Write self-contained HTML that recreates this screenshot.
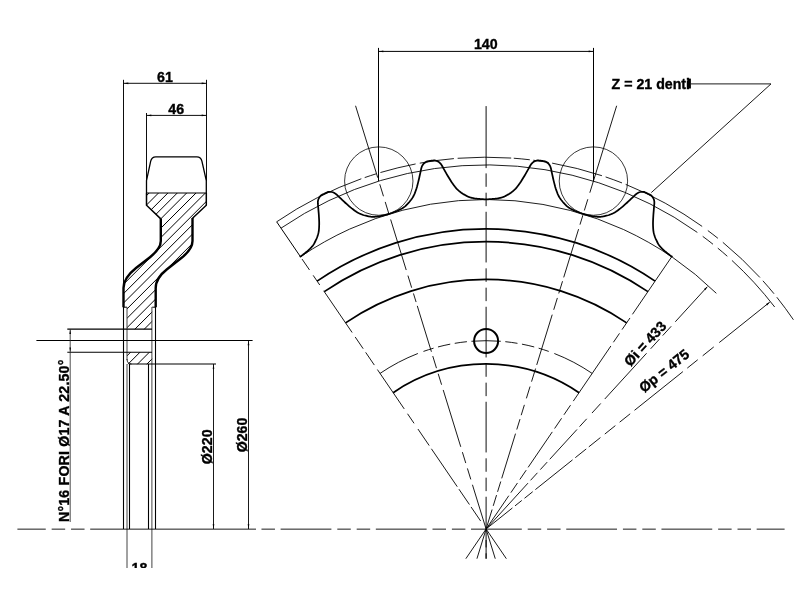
<!DOCTYPE html>
<html lang="it">
<head>
<meta charset="utf-8">
<title>Disegno tecnico corona dentata Z = 21</title>
<style>
html,body{margin:0;padding:0;background:#fff;}
body{width:807px;height:590px;overflow:hidden;}
svg{display:block;will-change:transform;}
svg text{font-family:"Liberation Sans",sans-serif;font-weight:bold;fill:#000;stroke:#000;stroke-width:0.35px;}
</style>
</head>
<body>
<svg width="807" height="590" viewBox="0 0 807 590">
<rect x="0" y="0" width="807" height="590" fill="#fff"/>
<clipPath id="page"><rect x="0" y="0" width="807" height="568"/></clipPath>
<g clip-path="url(#page)">
<line x1="123.5" y1="79.8" x2="123.5" y2="286" stroke="#000" stroke-width="0.95"/>
<line x1="206.5" y1="79.8" x2="206.5" y2="181" stroke="#000" stroke-width="0.95"/>
<line x1="146.5" y1="113" x2="146.5" y2="181" stroke="#000" stroke-width="0.95"/>
<line x1="123.5" y1="83.3" x2="206.5" y2="83.3" stroke="#000" stroke-width="0.95"/>
<polygon points="123.9,83.3 128.3,82.45 128.3,84.15" fill="#000"/>
<polygon points="206.1,83.3 201.7,84.15 201.7,82.45" fill="#000"/>
<text x="165" y="81.7" font-size="14.2" text-anchor="middle">61</text>
<line x1="146.5" y1="115.4" x2="206.5" y2="115.4" stroke="#000" stroke-width="0.95"/>
<polygon points="146.9,115.4 151.3,114.55 151.3,116.25" fill="#000"/>
<polygon points="206.1,115.4 201.7,116.25 201.7,114.55" fill="#000"/>
<text x="176.2" y="113.65" font-size="14.2" text-anchor="middle">46</text>
<path d="M146.5 193 L146.5 180.6 L150.7 161.2 Q151.7 157 155.8 156.9 L196.9 156.9 Q201 157 201.9 161.2 L206.3 180.6 L206.3 193" fill="none" stroke="#000" stroke-width="1.3"/>
<line x1="146.5" y1="193" x2="206.3" y2="193" stroke="#000" stroke-width="1.2"/>
<clipPath id="cb"><path d="M146.5 193 L206.3 193 L206.3 205.2 L192.5 218.3 L192.5 241 C192.5 248.5 186.5 254 181 258.3 L167 269.3 C160.8 274.3 155.7 279.5 155.7 288 L155.7 307.2 L152.2 307.2 L152.2 329.2 L127 329.2 L127 307.2 L123.5 307.2 L123.5 288 C123.5 279 129.75 273 136 268 L150 257.2 C155.5 252.8 160.8 248 160.8 241 L160.8 218.9 L146.5 205.2 Z"/><rect x="127" y="352.3" width="25.2" height="12"/></clipPath>
<path d="M107.7 150 L-122.3 380 M117.08 150 L-112.92 380 M126.46 150 L-103.54 380 M135.84 150 L-94.16 380 M145.22 150 L-84.78 380 M154.6 150 L-75.4 380 M163.98 150 L-66.02 380 M173.36 150 L-56.64 380 M182.74 150 L-47.26 380 M192.12 150 L-37.88 380 M201.5 150 L-28.5 380 M210.88 150 L-19.12 380 M220.26 150 L-9.74 380 M229.64 150 L-0.36 380 M239.02 150 L9.02 380 M248.4 150 L18.4 380 M257.78 150 L27.78 380 M267.16 150 L37.16 380 M276.54 150 L46.54 380 M285.92 150 L55.92 380 M295.3 150 L65.3 380 M304.68 150 L74.68 380 M314.06 150 L84.06 380 M323.44 150 L93.44 380 M332.82 150 L102.82 380 M342.2 150 L112.2 380 M351.58 150 L121.58 380 M360.96 150 L130.96 380 M370.34 150 L140.34 380 M379.72 150 L149.72 380 M389.1 150 L159.1 380 M398.48 150 L168.48 380 M407.86 150 L177.86 380" fill="none" stroke="#000" stroke-width="1" clip-path="url(#cb)"/>
<path d="M146.5 193 L146.5 205.2 L160.8 218.9 M206.3 193 L206.3 205.2 L192.5 218.3" fill="none" stroke="#000" stroke-width="1.5"/>
<path d="M160.8 218.5 L160.8 241 C160.8 248 155.5 252.8 150 257.2 L136 268 C129.75 273 123.5 279 123.5 288 L123.5 307.2" fill="none" stroke="#000" stroke-width="2.4"/>
<path d="M192.5 218 L192.5 241 C192.5 248.5 186.5 254 181 258.3 L167 269.3 C160.8 274.3 155.7 279.5 155.7 288 L155.7 307.2" fill="none" stroke="#000" stroke-width="2.4"/>
<line x1="123.6" y1="307.2" x2="127" y2="307.2" stroke="#000" stroke-width="1"/>
<line x1="152.2" y1="307.2" x2="155.6" y2="307.2" stroke="#000" stroke-width="1"/>
<line x1="123.5" y1="307" x2="123.5" y2="529" stroke="#000" stroke-width="1.1"/>
<line x1="155.5" y1="307" x2="155.5" y2="529" stroke="#000" stroke-width="1.1"/>
<line x1="127" y1="307" x2="127" y2="360" stroke="#444" stroke-width="1"/>
<line x1="151.9" y1="307" x2="151.9" y2="364" stroke="#444" stroke-width="1"/>
<path d="M127 359 Q127 364 131.5 364" fill="none" stroke="#222" stroke-width="1"/>
<line x1="129.5" y1="364" x2="129.5" y2="529" stroke="#000" stroke-width="1.1"/>
<line x1="148.5" y1="364" x2="148.5" y2="529" stroke="#000" stroke-width="1.1"/>
<line x1="127" y1="364" x2="127" y2="569" stroke="#444" stroke-width="1"/>
<line x1="151.9" y1="364" x2="151.9" y2="569" stroke="#444" stroke-width="1"/>
<line x1="67.3" y1="329.15" x2="152" y2="329.15" stroke="#000" stroke-width="1.1"/>
<line x1="36.4" y1="340.5" x2="252.6" y2="340.5" stroke="#000" stroke-width="1.05"/>
<line x1="67.3" y1="352.3" x2="152" y2="352.3" stroke="#000" stroke-width="1.1"/>
<line x1="129.5" y1="364" x2="216" y2="364" stroke="#000" stroke-width="1.1"/>
<line x1="70.2" y1="329.15" x2="70.2" y2="522" stroke="#222" stroke-width="0.8"/>
<polygon points="70.2,329.5 71,334 69.4,334" fill="#000"/>
<polygon points="70.2,352 69.4,347.5 71,347.5" fill="#000"/>
<text x="68.6" y="522" font-size="14.2" text-anchor="start" transform="rotate(-90 68.6 522)" letter-spacing="0.18">N°16 FORI Ø17 A 22.50°</text>
<line x1="213.5" y1="364" x2="213.5" y2="529" stroke="#000" stroke-width="0.9"/>
<polygon points="213.5,364.4 214.35,368.8 212.65,368.8" fill="#000"/>
<polygon points="213.5,528.6 212.65,524.2 214.35,524.2" fill="#000"/>
<text x="211.8" y="446.8" font-size="14.2" text-anchor="middle" transform="rotate(-90 211.8 446.8)">Ø220</text>
<line x1="248.5" y1="340.5" x2="248.5" y2="529" stroke="#000" stroke-width="0.9"/>
<polygon points="248.5,340.9 249.35,345.3 247.65,345.3" fill="#000"/>
<polygon points="248.5,528.6 247.65,524.2 249.35,524.2" fill="#000"/>
<text x="246.8" y="435" font-size="14.2" text-anchor="middle" transform="rotate(-90 246.8 435)">Ø260</text>
<text x="139.4" y="573" font-size="14.2" text-anchor="middle">18</text>
<line x1="378.5" y1="47.9" x2="378.5" y2="181.08" stroke="#000" stroke-width="1"/>
<line x1="593.5" y1="47.9" x2="593.5" y2="181.08" stroke="#000" stroke-width="1"/>
<line x1="378.5" y1="51.4" x2="593.5" y2="51.4" stroke="#000" stroke-width="1"/>
<polygon points="378.9,51.4 383.3,50.55 383.3,52.25" fill="#000"/>
<polygon points="593.1,51.4 588.7,52.25 588.7,50.55" fill="#000"/>
<text x="485.8" y="48.7" font-size="14.2" text-anchor="middle">140</text>
<text x="611.6" y="88.5" font-size="14.2" text-anchor="start">Z = 21 denti</text>
<rect x="687.3" y="78.6" width="3.6" height="9.9" fill="#000"/>
<path d="M691 83.9 L771 83.9 L651.3 192.6" fill="none" stroke="#000" stroke-width="0.9"/>
<circle cx="378.78" cy="181.08" r="34.2" fill="none" stroke="#000" stroke-width="0.78"/>
<circle cx="593.42" cy="181.08" r="34.2" fill="none" stroke="#000" stroke-width="0.78"/>
<path d="M276.66 221.8 A371.8 371.8 0 0 1 361.32 178.76 M364.69 177.58 A371.8 371.8 0 0 1 376.03 173.87 M380.44 172.53 A371.8 371.8 0 0 1 415.6 163.94 M419.75 163.17 A371.8 371.8 0 0 1 453.89 158.6 M457.64 158.29 A371.8 371.8 0 0 1 511.19 158.05 M513.78 158.23 A371.8 371.8 0 0 1 529.8 159.78 M533.34 160.21 A371.8 371.8 0 0 1 548.74 162.52 M552.13 163.11 A371.8 371.8 0 0 1 601.92 175.7 M605.61 176.93 A371.8 371.8 0 0 1 622 182.93 M625.68 184.39 A371.8 371.8 0 0 1 702.16 226.42 M707.83 230.55 A371.8 371.8 0 0 1 717.91 238.31 M722.84 242.32 A371.8 371.8 0 0 1 759.91 277.48 M762.92 280.8 A371.8 371.8 0 0 1 774.02 293.76 M776.83 297.24 A371.8 371.8 0 0 1 793.43 319.75" fill="none" stroke="#000" stroke-width="0.88"/>
<path d="M281 228.17 A364.1 364.1 0 0 1 697.33 232.43 M702.73 236.35 A364.1 364.1 0 0 1 713.01 244.25 M717.79 248.13 A364.1 364.1 0 0 1 727.31 256.26 M731.94 260.43 A364.1 364.1 0 0 1 774.69 307" fill="none" stroke="#000" stroke-width="0.88"/>
<path d="M300.49 256.75 A329.5 329.5 0 0 1 716.35 293.3" fill="none" stroke="#000" stroke-width="0.88"/>
<path d="M317.1 281.13 A300 300 0 0 1 655.1 281.13" fill="none" stroke="#000" stroke-width="1.75"/>
<path d="M324.26 291.62 A287.3 287.3 0 0 1 647.94 291.62" fill="none" stroke="#000" stroke-width="1.75"/>
<path d="M345.55 322.85 A249.5 249.5 0 0 1 626.65 322.85" fill="none" stroke="#000" stroke-width="1.75"/>
<path d="M393.15 392.67 A165 165 0 0 1 579.05 392.67" fill="none" stroke="#000" stroke-width="1.75"/>
<path d="M380.03 373.42 A188.3 188.3 0 0 1 417.88 353.49 M423.46 351.42 A188.3 188.3 0 0 1 433.57 348.18 M437.97 346.96 A188.3 188.3 0 0 1 450.24 344.15 M454.73 343.33 A188.3 188.3 0 0 1 466.91 341.68 M471.42 341.27 A188.3 188.3 0 0 1 500.78 341.27 M505.29 341.68 A188.3 188.3 0 0 1 517.47 343.33 M521.96 344.15 A188.3 188.3 0 0 1 534.23 346.96 M538.63 348.18 A188.3 188.3 0 0 1 548.74 351.42 M554.32 353.49 A188.3 188.3 0 0 1 592.17 373.42" fill="none" stroke="#000" stroke-width="0.9"/>
<circle cx="486.1" cy="341" r="12" fill="none" stroke="#000" stroke-width="2"/>
<path d="M300.37 256.59 L300.96 256.18 L301.54 255.77 L302.12 255.34 L302.69 254.92 L303.26 254.48 L303.83 254.04 L304.4 253.6 L304.96 253.16 L305.52 252.71 L306.08 252.26 L306.65 251.81 L307.2 251.35 L307.75 250.88 L308.29 250.4 L308.83 249.9 L309.35 249.4 L309.88 248.88 L310.39 248.35 L310.9 247.81 L311.41 247.26 L311.91 246.7 L312.4 246.14 L312.88 245.53 L313.33 244.89 L313.76 244.21 L314.18 243.5 L314.58 242.77 L314.97 242.01 L315.35 241.24 L315.73 240.45 L316.11 239.66 L316.48 238.85 L316.83 238.01 L317.17 237.14 L317.5 236.24 L317.8 235.3 L318.09 234.32 L318.35 233.29 L318.59 232.22 L318.78 231.05 L318.93 229.79 L319.03 228.45 L319.11 227.04 L319.16 225.59 L319.2 224.09 L319.19 222.5 L319.14 220.81 L319.06 219.07 L318.96 217.27 L318.86 215.45 L318.73 213.56 L318.56 211.58 L318.39 209.58 L318.23 207.59 L318.04 205.51 L317.85 203.42 L317.87 201.73 L318.09 200.4 L318.39 199.24 L318.81 198.28 L319.3 197.48 L319.82 196.72 L320.38 196.03 L320.99 195.44 L321.67 194.99 L322.39 194.63 L323.11 194.27 L323.84 193.92 L324.57 193.57 L325.29 193.22 L326.02 192.87 L326.75 192.53 L327.48 192.19 L328.26 191.93 L329.1 191.83 L329.98 191.83 L330.9 191.89 L331.84 192 L332.85 192.28 L333.95 192.77 L335.12 193.43 L336.46 194.46 L337.97 195.91 L339.48 197.36 L340.93 198.72 L342.39 200.11 L343.83 201.47 L345.23 202.75 L346.59 203.97 L347.93 205.16 L349.25 206.31 L350.53 207.4 L351.77 208.4 L352.97 209.31 L354.14 210.17 L355.28 210.99 L356.4 211.74 L357.47 212.42 L358.51 213 L359.5 213.48 L360.46 213.91 L361.41 214.3 L362.33 214.65 L363.24 214.96 L364.13 215.24 L365.01 215.48 L365.87 215.7 L366.73 215.9 L367.58 216.09 L368.42 216.27 L369.26 216.44 L370.08 216.58 L370.9 216.7 L371.69 216.78 L372.48 216.83 L373.25 216.83 L374 216.8 L374.75 216.76 L375.49 216.7 L376.23 216.64 L376.97 216.57 L377.7 216.48 L378.42 216.39 L379.14 216.28 L379.86 216.16 L380.57 216.02 L381.27 215.87 L381.97 215.71 L382.67 215.55 L383.38 215.39 L384.07 215.23 L384.77 215.06 L385.47 214.89 L386.16 214.72 L386.86 214.54 L387.55 214.35 L388.23 214.15 L388.92 213.95 L389.6 213.73 L390.28 213.51 L390.96 213.27 L391.63 213.03 L392.3 212.79 L392.97 212.53 L393.64 212.28 L394.31 212.02 L394.98 211.76 L395.65 211.49 L396.32 211.23 L396.99 210.96 L397.65 210.67 L398.31 210.37 L398.97 210.05 L399.62 209.72 L400.27 209.38 L400.92 209.03 L401.57 208.66 L402.21 208.29 L402.85 207.9 L403.49 207.5 L404.13 207.07 L404.75 206.59 L405.36 206.07 L405.97 205.51 L406.57 204.93 L407.16 204.32 L407.76 203.7 L408.35 203.06 L408.95 202.41 L409.54 201.74 L410.12 201.05 L410.71 200.32 L411.28 199.55 L411.85 198.74 L412.41 197.89 L412.97 196.99 L413.51 196.03 L414.04 194.97 L414.55 193.81 L415.04 192.56 L415.53 191.23 L416.01 189.86 L416.49 188.44 L416.95 186.91 L417.39 185.29 L417.83 183.6 L418.27 181.86 L418.71 180.08 L419.14 178.24 L419.56 176.3 L419.99 174.34 L420.43 172.39 L420.85 170.34 L421.29 168.3 L421.81 166.69 L422.41 165.48 L423.04 164.46 L423.72 163.66 L424.43 163.04 L425.15 162.47 L425.89 161.97 L426.64 161.59 L427.42 161.36 L428.22 161.23 L429.02 161.1 L429.81 160.98 L430.61 160.86 L431.41 160.74 L432.21 160.62 L433.01 160.51 L433.81 160.4 L434.62 160.38 L435.45 160.53 L436.3 160.79 L437.16 161.13 L438.02 161.5 L438.91 162.07 L439.81 162.86 L440.74 163.83 L441.71 165.22 L442.73 167.04 L443.74 168.87 L444.73 170.61 L445.72 172.36 L446.69 174.08 L447.65 175.72 L448.59 177.28 L449.53 178.82 L450.44 180.31 L451.35 181.73 L452.24 183.05 L453.11 184.27 L453.98 185.44 L454.83 186.56 L455.67 187.61 L456.5 188.57 L457.32 189.43 L458.12 190.18 L458.92 190.88 L459.71 191.53 L460.49 192.13 L461.26 192.7 L462.03 193.22 L462.8 193.72 L463.56 194.18 L464.32 194.62 L465.08 195.06 L465.83 195.48 L466.58 195.88 L467.32 196.26 L468.07 196.61 L468.81 196.93 L469.54 197.21 L470.27 197.44 L471 197.63 L471.73 197.81 L472.46 197.98 L473.18 198.13 L473.9 198.28 L474.63 198.42 L475.35 198.54 L476.07 198.65 L476.79 198.74 L477.51 198.82 L478.23 198.89 L478.94 198.94 L479.66 198.99 L480.38 199.05 L481.09 199.1 L481.81 199.14 L482.52 199.19 L483.24 199.23 L483.96 199.26 L484.67 199.28 L485.39 199.29 L486.1 199.3 L486.81 199.29 L487.53 199.28 L488.24 199.26 L488.96 199.23 L489.68 199.19 L490.39 199.14 L491.11 199.1 L491.82 199.05 L492.54 198.99 L493.26 198.94 L493.97 198.89 L494.69 198.82 L495.41 198.74 L496.13 198.65 L496.85 198.54 L497.57 198.42 L498.3 198.28 L499.02 198.13 L499.74 197.98 L500.47 197.81 L501.2 197.63 L501.93 197.44 L502.66 197.21 L503.39 196.93 L504.13 196.61 L504.88 196.26 L505.62 195.88 L506.37 195.48 L507.12 195.06 L507.88 194.62 L508.64 194.18 L509.4 193.72 L510.17 193.22 L510.94 192.7 L511.71 192.13 L512.49 191.53 L513.28 190.88 L514.08 190.18 L514.88 189.43 L515.7 188.57 L516.53 187.61 L517.37 186.56 L518.22 185.44 L519.09 184.27 L519.96 183.05 L520.85 181.73 L521.76 180.31 L522.67 178.82 L523.61 177.28 L524.55 175.72 L525.51 174.08 L526.48 172.36 L527.47 170.61 L528.46 168.87 L529.47 167.04 L530.49 165.22 L531.46 163.83 L532.39 162.86 L533.29 162.07 L534.18 161.5 L535.04 161.13 L535.9 160.79 L536.75 160.53 L537.58 160.38 L538.39 160.4 L539.19 160.51 L539.99 160.62 L540.79 160.74 L541.59 160.86 L542.39 160.98 L543.18 161.1 L543.98 161.23 L544.78 161.36 L545.56 161.59 L546.31 161.97 L547.05 162.47 L547.77 163.04 L548.48 163.66 L549.16 164.46 L549.79 165.48 L550.39 166.69 L550.91 168.3 L551.35 170.34 L551.77 172.39 L552.21 174.34 L552.64 176.3 L553.06 178.24 L553.49 180.08 L553.93 181.86 L554.37 183.6 L554.81 185.29 L555.25 186.91 L555.71 188.44 L556.19 189.86 L556.67 191.23 L557.16 192.56 L557.65 193.81 L558.16 194.97 L558.69 196.03 L559.23 196.99 L559.79 197.89 L560.35 198.74 L560.92 199.55 L561.49 200.32 L562.08 201.05 L562.66 201.74 L563.25 202.41 L563.85 203.06 L564.44 203.7 L565.04 204.32 L565.63 204.93 L566.23 205.51 L566.84 206.07 L567.45 206.59 L568.07 207.07 L568.71 207.5 L569.35 207.9 L569.99 208.29 L570.63 208.66 L571.28 209.03 L571.93 209.38 L572.58 209.72 L573.23 210.05 L573.89 210.37 L574.55 210.67 L575.21 210.96 L575.88 211.23 L576.55 211.49 L577.22 211.76 L577.89 212.02 L578.56 212.28 L579.23 212.53 L579.9 212.79 L580.57 213.03 L581.24 213.27 L581.92 213.51 L582.6 213.73 L583.28 213.95 L583.97 214.15 L584.65 214.35 L585.34 214.54 L586.04 214.72 L586.73 214.89 L587.43 215.06 L588.13 215.23 L588.82 215.39 L589.53 215.55 L590.23 215.71 L590.93 215.87 L591.63 216.02 L592.34 216.16 L593.06 216.28 L593.78 216.39 L594.5 216.48 L595.23 216.57 L595.97 216.64 L596.71 216.7 L597.45 216.76 L598.2 216.8 L598.95 216.83 L599.72 216.83 L600.51 216.78 L601.3 216.7 L602.12 216.58 L602.94 216.44 L603.78 216.27 L604.62 216.09 L605.47 215.9 L606.33 215.7 L607.19 215.48 L608.07 215.24 L608.96 214.96 L609.87 214.65 L610.79 214.3 L611.74 213.91 L612.7 213.48 L613.69 213 L614.73 212.42 L615.8 211.74 L616.92 210.99 L618.06 210.17 L619.23 209.31 L620.43 208.4 L621.67 207.4 L622.95 206.31 L624.27 205.16 L625.61 203.97 L626.97 202.75 L628.37 201.47 L629.81 200.11 L631.27 198.72 L632.72 197.36 L634.23 195.91 L635.74 194.46 L637.08 193.43 L638.25 192.77 L639.35 192.28 L640.36 192 L641.3 191.89 L642.22 191.83 L643.1 191.83 L643.94 191.93 L644.72 192.19 L645.45 192.53 L646.18 192.87 L646.91 193.22 L647.63 193.57 L648.36 193.92 L649.09 194.27 L649.81 194.63 L650.53 194.99 L651.21 195.44 L651.82 196.03 L652.38 196.72 L652.9 197.48 L653.39 198.28 L653.81 199.24 L654.11 200.4 L654.33 201.73 L654.35 203.42 L654.16 205.51 L653.97 207.59 L653.81 209.58 L653.64 211.58 L653.47 213.56 L653.34 215.45 L653.24 217.27 L653.14 219.07 L653.06 220.81 L653.01 222.5 L653 224.09 L653.04 225.59 L653.09 227.04 L653.17 228.45 L653.27 229.79 L653.42 231.05 L653.61 232.22 L653.85 233.29 L654.11 234.32 L654.4 235.3 L654.7 236.24 L655.03 237.14 L655.37 238.01 L655.72 238.85 L656.09 239.66 L656.47 240.45 L656.85 241.24 L657.23 242.01 L657.62 242.77 L658.02 243.5 L658.44 244.21 L658.87 244.89 L659.32 245.53 L659.8 246.14 L660.29 246.7 L660.79 247.26 L661.3 247.81 L661.81 248.35 L662.32 248.88 L662.85 249.4 L663.37 249.9 L663.91 250.4 L664.45 250.88 L665 251.35 L665.55 251.81 L666.12 252.26 L666.68 252.71 L667.24 253.16 L667.8 253.6 L668.37 254.04 L668.94 254.48 L669.51 254.92 L670.08 255.34 L670.66 255.77 L671.24 256.18 L671.83 256.59" fill="none" stroke="#000" stroke-width="1.75" stroke-linecap="round" stroke-linejoin="round"/>
<line x1="300.49" y1="256.75" x2="276.66" y2="221.8" stroke="#000" stroke-width="1"/>
<path d="M302.06 259.07 L309.5 269.97 M313.16 275.34 L319.75 285.01 M323.69 290.8 L352.14 332.52 M355.18 336.98 L363.18 348.71 M365.66 352.35 L374.34 365.07 M377.38 369.54 L404.25 408.95 M407.52 413.74 L414.05 423.32 M417.94 429.03 L429.2 445.55 M431.4 448.77 L457.26 486.7 M458.95 489.18 L469.43 504.54 M471.06 506.94 L480.64 520.99 M486.1 529 L506.35 558.7" fill="none" stroke="#000" stroke-width="0.9"/>
<path d="M671.71 256.75 L632.45 314.34 M629.97 317.98 L622.03 329.63 M619.49 333.35 L613.41 342.27 M610.88 345.99 L573.3 401.1 M570.54 405.15 L563.95 414.81 M561.58 418.28 L554.6 428.53 M552.29 431.92 L528.12 467.36 M526.21 470.17 L519.84 479.51 M517.48 482.98 L510.89 492.65 M508.8 495.7 L465.85 558.7" fill="none" stroke="#000" stroke-width="0.9"/>
<path d="M355.55 105.78 L377.75 177.73 M379.75 184.23 L383.47 196.27 M385.21 201.91 L388.95 214.04 M390.63 219.49 L406.22 270.04 M407.93 275.58 L411.67 287.72 M413.44 293.45 L416.1 302.05 M417.27 305.87 L431.42 351.74 M432.75 356.04 L436.49 368.18 M438.2 373.72 L441.59 384.71 M443.21 389.96 L460.75 446.82 M462.4 452.17 L465.76 463.07 M467.41 468.42 L470.8 479.41 M472.45 484.76 L495.26 558.7" fill="none" stroke="#000" stroke-width="0.9"/>
<path d="M616.65 105.78 L589.82 192.73 M587.82 199.23 L584.34 210.51 M582.93 215.09 L579.98 224.65 M578.59 229.14 L563.71 277.4 M562.53 281.22 L558.76 293.45 M557.37 297.94 L553.72 309.79 M552.21 314.67 L536.71 364.93 M535.59 368.56 L531.55 381.65 M530.05 386.52 L526.39 398.37 M524.39 404.87 L521.21 415.19 M520 419.11 L516.78 429.52 M515.52 433.63 L501.72 478.35 M500.75 481.51 L497.57 491.83 M496.56 495.08 L493.23 505.88 M492.11 509.51 L476.94 558.7" fill="none" stroke="#000" stroke-width="0.9"/>
<line x1="486.1" y1="106.1" x2="486.1" y2="168.1" stroke="#000" stroke-width="0.95"/>
<line x1="486.1" y1="173.4" x2="486.1" y2="558.7" stroke="#000" stroke-width="0.95" stroke-dasharray="50.67 5.88 13.46 5.88 13.46 5.64" stroke-dashoffset="56.6"/>
<line x1="486.1" y1="540" x2="486.1" y2="558.7" stroke="#000" stroke-width="0.95"/>
<line x1="17.4" y1="529.15" x2="90.2" y2="529.15" stroke="#000" stroke-width="0.9" stroke-dasharray="50.78 5.9 13.49 5.9 13.49 5.65" stroke-dashoffset="22.41"/>
<line x1="256" y1="529.15" x2="784.6" y2="529.15" stroke="#000" stroke-width="0.9" stroke-dasharray="50.78 5.9 13.49 5.9 13.49 5.65" stroke-dashoffset="70.59"/>
<line x1="90.2" y1="529.15" x2="256" y2="529.15" stroke="#000" stroke-width="0.9"/>
<path d="M707.27 286.79 L675.31 321.79 M671.2 326.29 L662.7 335.6 M659.46 339.14 L650.63 348.82 M646.58 353.25 L604.78 399.03 M600.73 403.46 L591.97 413.06 M586.71 418.82 L579.56 426.65 M577 429.46 L549.75 459.29 M547.19 462.1 L540.31 469.63 M537.41 472.8 L530.54 480.34 M527.97 483.14 L486.1 529" fill="none" stroke="#000" stroke-width="0.9"/>
<path d="M769.67 302.22 L719.22 342.57 M713.75 346.94 L702.66 355.81 M697.74 359.74 L687.28 368.11 M682.91 371.61 L634.49 410.33 M630.19 413.77 L619.65 422.2 M615.35 425.64 L604.81 434.07 M600.43 437.56 L588.8 446.87 M586.22 448.93 L575.29 457.68 M572.55 459.86 L535.38 489.59 M532.72 491.71 L524.52 498.27 M521.79 500.46 L515 505.89 M512.42 507.95 L486.1 529" fill="none" stroke="#000" stroke-width="0.9"/>
<polygon points="707.61,286.42 705.27,290.24 704.01,289.09" fill="#000"/>
<polygon points="769.98,301.97 767.08,305.38 766.02,304.06" fill="#000"/>
<text x="648.78" y="346.99" font-size="14.2" text-anchor="middle" transform="rotate(-47.6 648.78 346.99)">Øi = 433</text>
<text x="667.21" y="374.56" font-size="14.2" text-anchor="middle" transform="rotate(-38.65 667.21 374.56)">Øp = 475</text>
</g>
</svg>
</body>
</html>
